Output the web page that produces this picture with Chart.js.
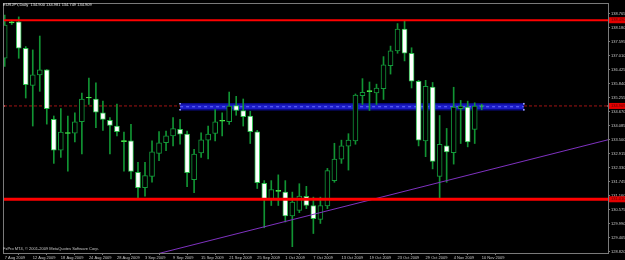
<!DOCTYPE html>
<html><head><meta charset="utf-8">
<script src="https://cdn.jsdelivr.net/npm/chart.js@4.4.1/dist/chart.umd.min.js"></script>
<style>html,body{margin:0;padding:0;background:#000;overflow:hidden}canvas{display:block}</style>
</head><body>
<canvas id="c" width="625" height="260"></canvas>
<script>
const headerText = 'EURJPY,Daily  134.900 134.981 134.749 134.909';
const footerText = 'FxPro MT4, \u00a9 2001-2009 MetaQuotes Software Corp.';

const dates = ['7 Aug 2009','9 Aug 2009','10 Aug 2009','11 Aug 2009','12 Aug 2009','13 Aug 2009','14 Aug 2009','17 Aug 2009',
 '18 Aug 2009','19 Aug 2009','20 Aug 2009','21 Aug 2009','24 Aug 2009','25 Aug 2009','26 Aug 2009','27 Aug 2009',
 '28 Aug 2009','31 Aug 2009','1 Sep 2009','2 Sep 2009','3 Sep 2009','4 Sep 2009','7 Sep 2009','8 Sep 2009',
 '9 Sep 2009','10 Sep 2009','11 Sep 2009','14 Sep 2009','15 Sep 2009','16 Sep 2009','17 Sep 2009','18 Sep 2009',
 '21 Sep 2009','22 Sep 2009','23 Sep 2009','24 Sep 2009','25 Sep 2009','28 Sep 2009','29 Sep 2009','30 Sep 2009',
 '1 Oct 2009','2 Oct 2009','5 Oct 2009','6 Oct 2009','7 Oct 2009','8 Oct 2009','9 Oct 2009','12 Oct 2009',
 '13 Oct 2009','14 Oct 2009','15 Oct 2009','16 Oct 2009','19 Oct 2009','20 Oct 2009','21 Oct 2009','22 Oct 2009',
 '23 Oct 2009','26 Oct 2009','27 Oct 2009','28 Oct 2009','29 Oct 2009','30 Oct 2009','2 Nov 2009','3 Nov 2009',
 '4 Nov 2009','5 Nov 2009','6 Nov 2009','9 Nov 2009','10 Nov 2009'];

const opens = [136.90,138.38,138.42,137.32,135.77,136.21,136.42,134.35,133.06,133.80,133.77,134.25,135.24,135.20,134.62,134.31,
 134.07,133.46,133.45,132.14,131.49,131.97,132.93,133.38,133.66,133.93,133.73,131.83,132.95,133.48,133.76,134.27,
 134.25,134.92,134.72,134.49,133.83,131.68,131.03,131.34,131.31,130.31,130.55,131.13,130.75,130.17,130.73,131.79,
 132.69,133.23,133.45,135.34,135.51,135.45,135.63,136.59,137.21,138.12,137.11,135.94,133.45,135.70,131.97,133.24,
 132.96,134.80,134.86,133.93,134.900];
const highs = [138.71,138.49,138.63,137.39,137.25,137.83,136.43,134.49,134.80,134.49,134.62,135.45,136.07,135.87,135.11,134.42,
 134.99,133.82,134.14,132.55,132.55,133.45,133.84,133.86,134.42,134.35,133.86,133.10,133.79,134.07,134.76,134.62,
 135.49,135.31,135.20,134.69,133.89,131.79,131.79,132.03,131.79,131.31,131.66,131.55,131.10,131.10,132.30,133.35,
 133.48,133.75,135.41,136.05,135.91,135.82,136.97,137.41,138.35,138.46,137.34,135.98,135.98,135.89,134.51,133.97,
 135.69,135.14,135.11,135.04,134.981];
const lows = [136.56,138.31,136.90,135.24,134.07,135.52,134.15,132.51,132.76,132.18,133.41,132.90,134.97,134.00,133.89,132.90,
 133.66,132.18,131.86,131.06,131.14,131.72,132.62,133.04,133.24,133.31,131.54,131.29,132.76,132.70,133.45,133.66,
 134.14,134.52,134.07,133.34,131.46,129.82,130.75,130.75,130.06,129.03,130.45,130.62,129.58,130.00,130.62,131.72,
 132.51,132.23,133.31,134.97,134.72,134.97,135.18,136.24,137.11,136.79,135.66,133.24,132.79,132.28,131.03,131.72,
 132.48,133.34,133.20,133.34,134.749];
const closes = [138.29,138.42,137.32,135.80,136.21,136.42,134.80,133.06,133.82,133.76,134.25,135.20,135.27,134.65,134.35,134.10,
 133.83,133.42,132.17,131.49,132.00,132.99,133.37,133.66,133.96,133.73,132.12,132.90,133.49,133.73,134.25,134.31,
 134.90,134.72,134.46,133.83,131.70,131.03,131.42,131.38,130.31,130.89,131.14,130.75,130.20,130.75,132.21,132.69,
 133.24,133.48,135.36,135.48,135.55,135.66,136.63,137.21,138.12,137.11,135.94,133.48,135.73,132.59,133.31,132.99,
 134.86,134.90,133.41,134.90,134.909];

const priceTicks = [128.820,129.405,129.990,130.575,131.160,131.745,132.330,132.915,133.500,134.085,134.670,
 135.255,135.840,136.425,137.010,137.595,138.180,138.765];
const dateTickIndex = [0,4,8,12,16,20,24,28,32,36,40,44,48,52,56,60,64,68];

const resistanceLevel = 138.49;
const supportLevel = 131.01;
const bidLevel = 134.909;
const bandX = [25, 74];
const bandTop = 135.00, bandBottom = 134.75;
const trendX = [20, 87];
const trendY = [128.60, 133.57];
const viewX = [-0.1, 86.0];
const viewY = [128.766, 139.168];

const WICK = '#119433', BULL_EDGE = '#13993a', BEAR_EDGE = '#2ec04e', DOJI = '#4cf04c';
const isDoji = i => Math.abs(opens[i] - closes[i]) < 0.05;
const bodyFill = dates.map((d, i) => isDoji(i) ? DOJI : (closes[i] >= opens[i] ? '#000000' : '#ffffff'));
const bodyEdge = dates.map((d, i) => isDoji(i) ? DOJI : (closes[i] >= opens[i] ? BULL_EDGE : BEAR_EDGE));

const FONT = 'Liberation Sans';
const hline = (v) => [{x: viewX[0], y: v}, {x: viewX[1], y: v}];

const overlay = {
  id: 'overlay',
  beforeDraw(chart) {
    const c = chart.ctx; c.save(); c.fillStyle = '#000'; c.fillRect(0, 0, chart.width, chart.height); c.restore();
  },
  afterDraw(chart) {
    const c = chart.ctx, a = chart.chartArea, ys = chart.scales.y;
    c.save();
    c.strokeStyle = '#7a7a7a'; c.lineWidth = 1;
    c.strokeRect(a.left - 0.5, a.top - 0.5, a.right - a.left + 1, a.bottom - a.top + 1);
    c.font = '4px "' + FONT + '"';
    c.textBaseline = 'top'; c.fillStyle = '#e6e6e6';
    c.fillText(headerText, 3, 3);
    c.fillStyle = '#c8c8c8';
    c.fillText(footerText, 3, 247);
    c.textBaseline = 'middle';
    [resistanceLevel, bidLevel, supportLevel].forEach(v => {
      const y = ys.getPixelForValue(v);
      c.fillStyle = '#e40000';
      c.fillRect(a.right + 1, y - 3, chart.width - a.right, 6);
      c.fillStyle = '#5a0000';
      c.fillText(v.toFixed(3), a.right + 3, y);
    });
    c.restore();
  }
};

new Chart(document.getElementById('c'), {
  type: 'bar',
  data: {
    datasets: [
      { type: 'line', data: [{x: bandX[0], y: bandTop}, {x: bandX[1], y: bandTop}], borderColor: '#0a0a86', borderWidth: 1.5,
        pointRadius: 1.2, pointStyle: 'rect', pointBackgroundColor: '#9aa0ff', pointBorderWidth: 0, fill: false, order: 8 },
      { type: 'line', data: [{x: bandX[0], y: bandBottom}, {x: bandX[1], y: bandBottom}], borderColor: '#0a0a86', borderWidth: 1.5,
        pointRadius: 1.2, pointStyle: 'rect', pointBackgroundColor: '#9aa0ff', pointBorderWidth: 0,
        fill: '-1', backgroundColor: '#1c1cc8', order: 8 },
      { type: 'line', data: [{x: bandX[0], y: (bandTop + bandBottom) / 2}, {x: bandX[1], y: (bandTop + bandBottom) / 2}],
        borderColor: '#6a70ff', borderWidth: 1, borderDash: [3, 3], pointRadius: 0, fill: false, order: 7 },
      { type: 'line', data: hline(bidLevel), borderColor: '#a01414', borderWidth: 1, borderDash: [3, 2],
        pointRadius: 1, pointStyle: 'rect', pointBackgroundColor: '#ff8080', pointBorderWidth: 0, fill: false, order: 9 },
      { data: dates.map((d, i) => ({x: i, y: [lows[i], highs[i]]})), backgroundColor: WICK, borderWidth: 0,
        barThickness: 1, grouped: false, order: 5 },
      { data: dates.map((d, i) => ({x: i, y: [Math.min(opens[i], closes[i]), Math.max(opens[i], closes[i])]})),
        backgroundColor: bodyFill, borderColor: bodyEdge, borderWidth: 1, borderSkipped: false,
        barThickness: 5, grouped: false, order: 4 },
      { type: 'line', data: trendX.map((x, i) => ({x, y: trendY[i]})), borderColor: '#7f32c0', borderWidth: 1,
        pointRadius: 0, fill: false, order: 2 },
      { type: 'line', data: hline(resistanceLevel), borderColor: '#ff0000', borderWidth: 2, pointRadius: 0, fill: false, order: 1 },
      { type: 'line', data: hline(supportLevel), borderColor: '#ff0000', borderWidth: 3, pointRadius: 0, fill: false, order: 1 }
    ]
  },
  options: {
    responsive: false, animation: false, devicePixelRatio: 1,
    layout: { padding: { left: 1, top: 2, right: 0, bottom: 0 } },
    plugins: { legend: { display: false }, tooltip: { enabled: false } },
    scales: {
      x: {
        type: 'linear', min: viewX[0], max: viewX[1], offset: false,
        grid: { display: true, drawOnChartArea: false, drawTicks: true, tickLength: 2, color: '#7a7a7a' },
        border: { display: false },
        ticks: { autoSkip: false, maxRotation: 0, minRotation: 0, align: 'start', padding: 0,
          color: '#c8c8c8', font: { family: FONT, size: 4 }, callback: v => dates[v] },
        afterBuildTicks: s => { s.ticks = dateTickIndex.map(v => ({value: v})); },
        afterFit: s => { s.height = 7; s.paddingLeft = 0; s.paddingRight = 0; }
      },
      y: {
        position: 'right', min: viewY[0], max: viewY[1],
        grid: { display: true, drawOnChartArea: false, drawTicks: true, tickLength: 2, color: '#7a7a7a' },
        border: { display: false },
        ticks: { padding: 1, color: '#c8c8c8', font: { family: FONT, size: 4 }, callback: v => v.toFixed(3) },
        afterBuildTicks: s => { s.ticks = priceTicks.map(v => ({value: v})); },
        afterFit: s => { s.width = 17; s.paddingTop = 0; s.paddingBottom = 0; }
      }
    }
  },
  plugins: [overlay]
});
</script>
</body></html>
